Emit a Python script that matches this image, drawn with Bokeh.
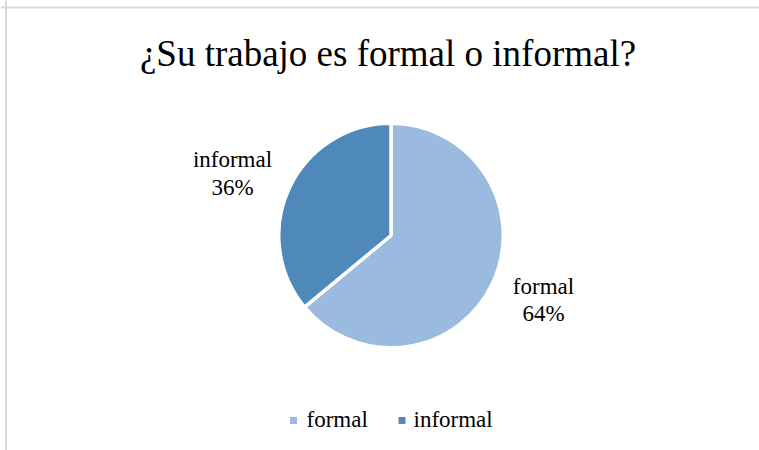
import math
from bokeh.plotting import figure
from bokeh.models import Range1d, Span
from bokeh.core.properties import value
from bokeh.embed import file_html
from bokeh.resources import INLINE

title_text = "¿Su trabajo es formal o informal?"
categories = ["formal", "informal"]
percents = [64, 36]
colors = ["#9BBAE0", "#4F88BB"]

W, H = 759, 450
FONT = "Liberation Serif"
TSHIFT = 8  # empirical baseline correction for text glyphs

p = figure(width=W, height=H, output_backend="svg", toolbar_location=None,
           x_range=Range1d(0, W), y_range=Range1d(0, H),
           min_border=0, outline_line_color=None, background_fill_color="white",
           border_fill_color="white")
p.axis.visible = False
p.grid.visible = False

def px(x):
    return x

def py(y):
    return H - y

def ty(y):
    return H - (y - TSHIFT)

# frame lines
p.add_layout(Span(location=px(5.5), dimension="height", line_color="#D9D9D9", line_width=2))
p.add_layout(Span(location=py(7), dimension="width", line_color="#D9D9D9", line_width=2))

# title
p.text(x=[px(387.5)], y=[ty(61)], text=[title_text], text_font=value(FONT),
       text_font_size="37px", text_align="center", text_baseline="alphabetic",
       text_color="#000000")

# pie
cx, cy, r = px(390.5), py(235), 112.25
total = sum(percents)
starts, ends = [], []
ang = math.pi / 2
for v in percents:
    sweep = 2 * math.pi * v / total
    ends.append(ang)
    starts.append(ang - sweep)
    ang -= sweep
p.wedge(x=[cx] * len(categories), y=[cy] * len(categories), radius=r,
        start_angle=starts, end_angle=ends, direction="anticlock",
        fill_color=colors, line_color="white", line_width=3.5)

# data labels (layout positions)
label_pos = {"formal": (543, 293.5, 320.5), "informal": (232, 166.5, 194.5)}
for c, v in zip(categories, percents):
    lx, b1, b2 = label_pos[c]
    p.text(x=[px(lx), px(lx)], y=[ty(b1), ty(b2)], text=[c, f"{v}%"],
           text_font=value(FONT), text_font_size="23px", text_align="center",
           text_baseline="alphabetic", text_color="#000000")

# legend
leg_sq_x = [293, 401.5]
leg_tx_x = [306, 413]
p.scatter(x=[px(v) for v in leg_sq_x], y=[py(420)] * 2, marker="square", size=7,
          fill_color=colors, line_color=None)
p.text(x=[px(v) for v in leg_tx_x], y=[ty(427)] * 2, text=categories,
       text_font=value(FONT), text_font_size="23px", text_align="left",
       text_baseline="alphabetic", text_color="#000000")

open("out.html", "w").write(file_html(p, INLINE))
